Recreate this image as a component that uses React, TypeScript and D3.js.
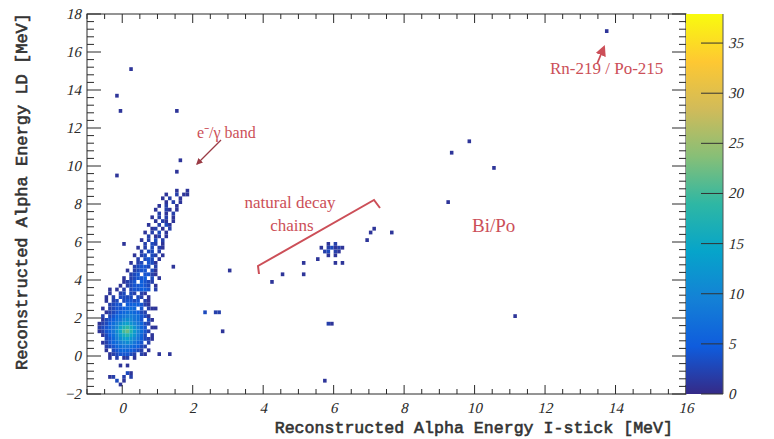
import React from 'react';
import * as d3 from 'd3';

// ---------- data ----------
const X_DOMAIN: [number, number] = [-1, 16];
const Y_DOMAIN: [number, number] = [-2, 18];
const Z_MAX = 37.9;
const BIN_X = 0.1;
const BIN_Y = 0.2;

const xTickLabels = [0, 2, 4, 6, 8, 10, 12, 14, 16];
const yTickLabels = [-2, 0, 2, 4, 6, 8, 10, 12, 14, 16, 18];
const zTickLabels = [0, 5, 10, 15, 20, 25, 30, 35];

// ROOT kBird palette
const BIRD_STOPS = [0, 0.125, 0.25, 0.375, 0.5, 0.625, 0.75, 0.875, 1];
const BIRD_COLORS = [
  'rgb(53,42,135)', 'rgb(15,92,221)', 'rgb(20,129,214)', 'rgb(6,164,202)',
  'rgb(46,183,164)', 'rgb(135,191,119)', 'rgb(209,187,89)', 'rgb(254,200,50)', 'rgb(249,251,14)',
];

// rows: [y lower edge, x of first column, counts per 0.1 MeV column (base 36, '.' = empty)]
const coreRows: [number, number, string][] = [
  [3.2, -0.6, '..1..23.32.21..'],
  [3.0, -0.6, '.1.2.3333.32.1.'],
  [2.8, -0.6, '.1.23.34434.21.'],
  [2.6, -0.6, '..2344.5565421.'],
  [2.4, -0.6, '1.23445676.4.21'],
  [2.2, -0.6, '.123456776532..'],
  [2.0, -0.6, '2.346789987431.'],
  [1.8, -0.6, '134578aba874.31'],
  [1.6, -0.6, '23579bdeca8632.'],
  [1.4, -0.6, '3468aehjgc964.1'],
  [1.2, -0.6, '2468bfkmida742.'],
  [1.0, -0.6, '1357adgifc963.1'],
  [0.8, -0.6, '.3469bdeca8532.'],
  [0.6, -0.6, '124679aba864.2.'],
  [0.4, -0.6, '.234678876532..'],
  [0.2, -0.6, '.1.346665432.1.'],
  [0.0, -0.6, '..12344432.21..'],
  [-0.2, -0.6, '..1.2.12.1.....'],
];

const bandRows: [number, number, string][] = [
  [8.6, 1.5, '1..1'],
  [8.4, 1.2, '1..2.1'],
  [8.2, 1.1, '1.2..1'],
  [8.0, 1.1, '.1.2.1'],
  [7.8, 1.0, '1.2..1'],
  [7.6, 0.9, '1..21.1'],
  [7.4, 0.9, '.2.1.2'],
  [7.2, 0.8, '1.2.2.1'],
  [7.0, 0.8, '.1.21.1'],
  [6.8, 0.7, '1..2.31'],
  [6.6, 0.7, '.12.1.2'],
  [6.4, 0.6, '1.2.3.1'],
  [6.2, 0.6, '.2.12.1'],
  [6.0, 0.5, '1.2.3.2'],
  [5.8, 0.5, '.2.32.1'],
  [5.6, 0.4, '1.2.3.21'],
  [5.4, 0.4, '.2.33.2'],
  [5.2, 0.3, '1.23.32.1'],
  [5.0, 0.3, '.2.343.1'],
  [4.8, 0.2, '1.23.431'],
  [4.6, 0.2, '.23443.2'],
  [4.4, 0.1, '1.2344.31'],
  [4.2, 0.1, '.234.4421'],
  [4.0, 0.0, '1.23445.3.1'],
  [3.8, -0.1, '.1234.5432'],
  [3.6, -0.1, '1.2344543.1'],
  [3.4, -0.2, '1.2.344554.2'],
];

const decayRows: [number, number, string][] = [
  [5.8, 5.8, '1.2'],
  [5.6, 5.6, '1.23121'],
  [5.4, 5.7, '23.21'],
  [5.2, 5.8, '1.1'],
];

// isolated entries: [x, y, counts]
const scatterPoints: [number, number, number][] = [
  [-0.7, 1.4, 2], [-0.7, 1.2, 1], [-0.7, 1.6, 1],
  [-0.35, 3.4, 1], [1.43, 4.6, 1], [0.07, 5.9, 1], [1.06, 0.0, 1], [1.3, 0.0, 1],
  [0.83, 0.8, 1], [0.95, 1.4, 1], [0.9, 2.4, 1],
  [-0.1, -0.6, 1], [0.1, -0.6, 1],
  [-0.3, -1.2, 2], [-0.2, -1.4, 3], [0.0, -1.2, 2], [0.1, -1.0, 3], [0.0, -1.4, 1],
  [0.2, -1.2, 2], [-0.1, -1.6, 1], [0.2, -1.0, 1], [-0.4, -1.1, 1],
  [-0.2, 9.4, 1], [1.86, 8.5, 1], [1.57, 9.6, 1], [1.68, 10.3, 1], [-0.05, 12.8, 1],
  [1.54, 12.8, 1], [-0.16, 13.7, 1], [0.27, 15.0, 1],
  [2.3, 2.2, 3], [2.6, 2.2, 2], [2.7, 2.2, 2], [2.85, 1.2, 1], [3.05, 4.5, 1],
  [4.24, 3.86, 1], [4.5, 4.2, 1], [5.1, 4.3, 1], [5.1, 4.9, 1], [5.5, 5.0, 1],
  [6.0, 4.8, 1], [6.2, 4.9, 1],
  [6.9, 6.0, 1], [7.0, 6.4, 1], [7.1, 6.7, 1], [7.6, 6.4, 1],
  [5.8, 1.6, 2], [5.9, 1.6, 1], [5.7, -1.4, 1],
  [9.2, 8.0, 1], [9.35, 10.7, 1], [9.8, 11.35, 1], [10.5, 9.9, 1], [11.1, 2.0, 1],
  [13.7, 17.0, 1],
];

// ---------- component ----------
type Cell = { x: number; y: number; v: number };

const SERIF = 'Liberation Serif';
const MONO = 'Liberation Mono';

function ItalicLabel(props: { x: number; y: number; anchor?: 'start' | 'middle' | 'end'; children: React.ReactNode }) {
  return (
    <text
      transform={`translate(${props.x},${props.y}) skewX(-13)`}
      textAnchor={props.anchor || 'start'}
      fontFamily={SERIF}
      fontSize={15}
      fill="#2a2a2a"
    >
      {props.children}
    </text>
  );
}

export default function App() {
  const W = 774, H = 439;
  const L = 87, R = 686, T = 14, B = 394;
  const CB_L = 686, CB_R = 723;

  const x = d3.scaleLinear().domain(X_DOMAIN).range([L, R]);
  const y = d3.scaleLinear().domain(Y_DOMAIN).range([B, T]);
  const z = d3.scaleLinear().domain([0, Z_MAX]).range([B, T]);
  const color = d3
    .scaleLinear<string>()
    .domain(BIRD_STOPS.map((s) => s * Z_MAX))
    .range(BIRD_COLORS)
    .interpolate(d3.interpolateRgb)
    .clamp(true);

  const cells: Cell[] = [];
  const addRows = (rows: [number, number, string][]) => {
    rows.forEach(([y0, x0, s]) => {
      for (let i = 0; i < s.length; i++) {
        if (s[i] === '.') continue;
        cells.push({ x: x0 + i * BIN_X, y: y0, v: parseInt(s[i], 36) });
      }
    });
  };
  addRows(coreRows);
  addRows(bandRows);
  addRows(decayRows);
  scatterPoints.forEach(([px, py, v]) => {
    cells.push({
      x: Math.floor(px / BIN_X + 1e-6) * BIN_X,
      y: Math.floor(py / BIN_Y + 1e-6) * BIN_Y,
      v,
    });
  });

  const xMinor = d3.range(X_DOMAIN[0], X_DOMAIN[1] + 1e-6, 0.5);
  const yMinor = d3.range(Y_DOMAIN[0], Y_DOMAIN[1] + 1e-6, 0.4);

  const frame = '#2a2a2a';
  const red = '#cc4f58';

  return (
    <svg width={W} height={H} style={{ position: 'absolute', left: 0, top: 0, background: '#fff' }}>
      <defs>
        <linearGradient id="bird" x1="0" y1="1" x2="0" y2="0">
          {BIRD_STOPS.map((s, i) => (
            <stop key={i} offset={s} stopColor={BIRD_COLORS[i]} />
          ))}
        </linearGradient>
        <filter id="soft" x="-5%" y="-5%" width="110%" height="110%">
          <feGaussianBlur stdDeviation="0.45" />
        </filter>
        <marker id="ahRed" viewBox="0 0 10 10" refX="8" refY="5" markerWidth="6" markerHeight="6" orient="auto">
          <path d="M0,0 L10,5 L0,10 z" fill={red} />
        </marker>
        <marker id="ahDark" viewBox="0 0 10 10" refX="8" refY="5" markerWidth="5" markerHeight="5" orient="auto">
          <path d="M0,0 L10,5 L0,10 z" fill="#9a3b45" />
        </marker>
      </defs>

      {/* histogram cells */}
      <g filter="url(#soft)">
        {cells.map((c, i) => (
          <rect
            key={i}
            x={x(c.x)}
            y={y(c.y + BIN_Y)}
            width={x(c.x + BIN_X) - x(c.x)}
            height={y(c.y) - y(c.y + BIN_Y)}
            fill={color(c.v)}
          />
        ))}
      </g>

      {/* frame */}
      <rect x={L} y={T} width={R - L} height={B - T} fill="none" stroke={frame} strokeWidth={1} />

      {/* x ticks bottom & top */}
      {xMinor.map((v, i) => {
        const major = xTickLabels.some((t) => Math.abs(t - v) < 1e-6);
        const len = major ? 9 : 5;
        return (
          <g key={'xt' + i} stroke={frame} strokeWidth={1}>
            <line x1={x(v)} x2={x(v)} y1={B} y2={B - len} />
            <line x1={x(v)} x2={x(v)} y1={T} y2={T + len} />
          </g>
        );
      })}
      {/* y ticks left & right */}
      {yMinor.map((v, i) => {
        const major = yTickLabels.some((t) => Math.abs(t - v) < 1e-6);
        const len = major ? 14 : 7;
        return (
          <g key={'yt' + i} stroke={frame} strokeWidth={1}>
            <line x1={L} x2={L + len} y1={y(v)} y2={y(v)} />
            <line x1={R} x2={R - len} y1={y(v)} y2={y(v)} />
          </g>
        );
      })}

      {/* tick labels */}
      {xTickLabels.map((v) => (
        <ItalicLabel key={'xl' + v} x={x(v)} y={413} anchor="middle">
          {v}
        </ItalicLabel>
      ))}
      {yTickLabels.map((v) => (
        <ItalicLabel key={'yl' + v} x={81} y={y(v) + 5} anchor="end">
          {v < 0 ? '\u2212' + Math.abs(v) : v}
        </ItalicLabel>
      ))}

      {/* axis titles */}
      <text x={673} y={433} textAnchor="end" fontFamily={MONO} fontSize={16.6} fill="#333" stroke="#333" strokeWidth={0.6}>
        Reconstructed Alpha Energy I-stick [MeV]
      </text>
      <text transform="translate(27,13) rotate(-90)" textAnchor="end" fontFamily={MONO} fontSize={17} fill="#333" stroke="#333" strokeWidth={0.6}>
        Reconstructed Alpha Energy LD [MeV]
      </text>

      {/* colour bar */}
      <rect x={CB_L} y={T} width={CB_R - CB_L} height={B - T} fill="url(#bird)" />
      <line x1={CB_R} x2={CB_R} y1={T} y2={B} stroke="#555" strokeWidth={1} />
      {zTickLabels.map((v) => (
        <g key={'zt' + v}>
          <line x1={CB_R} x2={CB_R - 22} y1={z(v)} y2={z(v)} stroke="#333" strokeWidth={1} />
          <ItalicLabel x={728} y={z(v) + 5}>
            {v}
          </ItalicLabel>
        </g>
      ))}

      {/* annotations */}
      <text x={197} y={138} fontFamily={SERIF} fontSize={16} fill={red}>
        e⁻/γ band
      </text>
      <line x1={221} y1={140} x2={197} y2={164} stroke="#9a3b45" strokeWidth={1.3} markerEnd="url(#ahDark)" />

      <text x={290} y={208} textAnchor="middle" fontFamily={SERIF} fontSize={17} fill={red}>
        natural decay
      </text>
      <text x={292} y={231} textAnchor="middle" fontFamily={SERIF} fontSize={17} fill={red}>
        chains
      </text>
      <path d="M259,274 L258,266 L374,200 L380,208" fill="none" stroke={red} strokeWidth={2} />

      <text x={472} y={232} fontFamily={SERIF} fontSize={19} fill={red}>
        Bi/Po
      </text>

      <text x={550} y={74} fontFamily={SERIF} fontSize={17} fill={red}>
        Rn-219 / Po-215
      </text>
      <line x1={597} y1={64} x2={604} y2={47} stroke={red} strokeWidth={1.8} markerEnd="url(#ahRed)" />
    </svg>
  );
}
